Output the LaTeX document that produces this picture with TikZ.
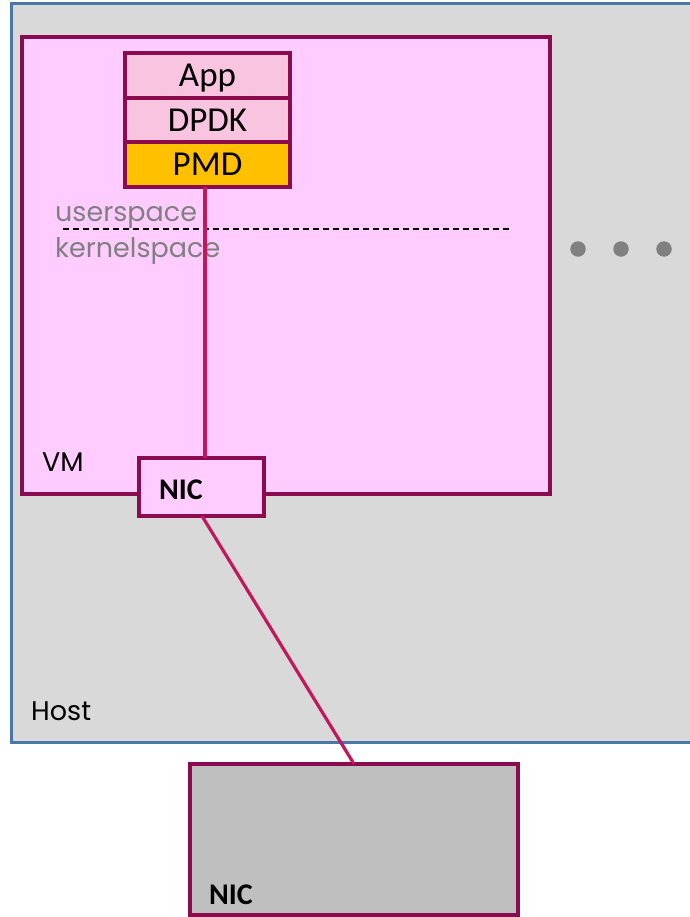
\documentclass[tikz,border=0pt]{standalone}
\usepackage{fontspec}
\setmainfont{Carlito}
\newfontfamily\gothic{Poppins}
\definecolor{hostfill}{HTML}{D9D9D9}
\definecolor{hostedge}{HTML}{4A76A8}
\definecolor{vmfill}{HTML}{FFCCFF}
\definecolor{plum}{HTML}{8A0C4E}
\definecolor{stackfill}{HTML}{F9C4E0}
\definecolor{pmdfill}{HTML}{FFC000}
\definecolor{wire}{HTML}{C2185B}
\definecolor{nicgray}{HTML}{BFBFBF}
\definecolor{labelgray}{HTML}{808080}
\tikzset{
  box/.style={draw=plum, line width=4pt, rectangle, inner sep=0pt, outer sep=0pt},
  layer/.style={box, minimum width=165pt, minimum height=44.5pt, text height=23pt, text depth=0pt, font=\fontsize{35}{40}\selectfont},
  wireline/.style={draw=wire, line width=3.2pt},
  gothiclabel/.style={font=\gothic\fontsize{27}{32}\selectfont, inner sep=0pt, anchor=base west},
  nictext/.style={font=\bfseries\fontsize{30}{34}\selectfont, inner sep=0pt, anchor=base west},
  dot/.style={circle, fill=labelgray, minimum size=15.5pt, inner sep=0pt}
}
\begin{document}
\begin{tikzpicture}[x=1pt, y=-1pt]
\useasboundingbox (0,0) rectangle (689,917);
% host
\draw[fill=hostfill, draw=hostedge, line width=3pt] (11,4) rectangle (710,742);
\node[gothiclabel, text=black] (hostlbl) at (31,720) {Host};
% VM
\draw[fill=vmfill, draw=plum, line width=3.5pt] (22,37) rectangle (550,494);
\node[gothiclabel, text=black] (vmlbl) at (42,471) {VM};
% stack
\node[layer, fill=stackfill] (app) at (207.5,75.5) {App};
\node[layer, fill=stackfill, anchor=north] (dpdk) at (app.south) {DPDK};
\node[layer, fill=pmdfill, anchor=north] (pmd) at (dpdk.south) {PMD};
% user/kernel split
\coordinate (dl) at (63,229);
\coordinate (dr) at (510,229);
\draw[line width=1.5pt, dash pattern=on 6pt off 4pt] (dl) -- (dr);
\node[gothiclabel, text=labelgray] (us) at (55,222) {userspace};
\node[gothiclabel, text=labelgray] (ks) at (55,257) {kernelspace};
% dots
\node[dot] (d1) at (578,249) {};
\node[dot] (d2) at (621,249) {};
\node[dot] (d3) at (664,249) {};
% VM NIC
\node[box, fill=vmfill, minimum width=125pt, minimum height=58pt] (vnic) at (201.5,487) {};
\node[nictext] (vnictext) at (159,499) {NIC};
\draw[wireline] (pmd.south -| 205,0) -- (vnic.north -| 205,0);
% physical NIC
\draw[fill=nicgray, draw=plum, line width=3.5pt] (190,764) rectangle (518,915);
\coordinate (pnic) at (354,764);
\node[nictext] (pnictext) at (209,904) {NIC};
\draw[wireline] (vnic.south -| 202,0) -- (pnic);
\end{tikzpicture}
\end{document}
